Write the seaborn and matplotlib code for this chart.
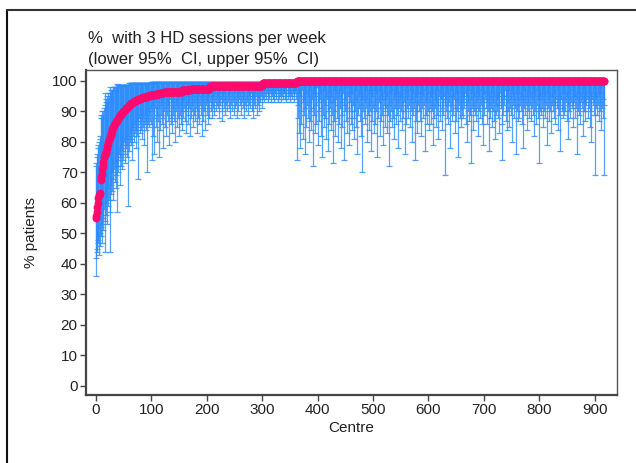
import numpy as np
import pandas as pd
import seaborn as sns
import matplotlib
matplotlib.use("Agg")
import matplotlib.pyplot as plt
from matplotlib.lines import Line2D

# ---------------- data ----------------
# % with 3 HD sessions per week, centres sorted ascending
pct_head = [55.0, 55.6, 57.1, 58.8, 60.0, 61.5, 62.5, 63.0, 63.3, 67.5,
            68.4, 69.6, 71.0, 72.2, 73.3, 75.0, 75.8, 76.2, 76.5, 77.1,
            77.8, 78.6, 79.3, 80.0, 80.6, 81.2, 81.8, 82.4, 83.0, 83.6,
            84.2, 84.6, 85.0, 85.4, 85.8, 86.1, 86.4, 86.7, 87.0, 87.3,
            87.6, 87.9, 88.2, 88.5, 88.8, 89.0, 89.2, 89.4, 89.6, 89.8,
            90.0, 90.2, 90.4, 90.6, 90.8, 91.0, 91.2, 91.4, 91.6, 91.8,
            92.0, 92.2, 92.4, 92.6, 92.7, 92.8, 92.9, 93.0, 93.1, 93.2,
            93.3, 93.4, 93.5, 93.6, 93.7, 93.8, 93.9, 94.0, 94.1, 94.1,
            94.2, 94.3, 94.3, 94.4, 94.5, 94.5, 94.6, 94.6, 94.7, 94.8,
            94.8, 94.9, 94.9, 95.0, 95.0, 95.1, 95.2, 95.2, 95.3, 95.3]
pct_step_values = [95.5, 95.7, 96.0, 96.3, 96.5, 97.0, 97.4, 98.2, 98.5, 99.3, 100.0]
pct_step_counts = [8, 8, 8, 10, 22, 15, 35, 50, 45, 62, 555]

# lower 95% CI
lower_a = [36, 42, 44, 45, 48, 47, 43, 50, 46, 52,
           49, 53, 47, 55, 51, 58, 54, 44, 60, 56,
           62, 53, 65, 59, 61, 57, 44, 66, 63, 70,
           64, 68, 61, 71, 67, 73, 65, 69, 57, 72,
           74, 70, 76, 66, 75, 78, 72, 71, 77, 79,
           74, 80, 76, 73, 81, 78, 79, 75, 59, 82,
           77, 80, 83, 79, 81, 84, 74, 82, 85, 80,
           83, 86, 78, 84, 87, 82, 68, 85, 88, 83,
           86, 84, 89, 81, 87, 85, 88, 79, 86, 89,
           87, 84, 70, 88, 86, 90, 85, 89, 87, 91]
lower_b = [86, 74, 90, 82, 92, 88, 76, 91, 85, 93, 80, 89, 94, 87, 75, 91, 84, 92, 89, 86,
           93, 88, 78, 90, 94, 85, 91, 82, 93, 89, 87, 92, 79, 90, 94, 86, 88, 93, 83, 91,
           89, 94, 87, 80, 92, 90, 85, 93, 88, 91, 82, 94, 89, 86, 92, 90, 84, 93, 88, 91,
           94, 87, 90, 83, 92, 95, 89, 86, 93, 91, 82, 94, 88, 90, 92, 85, 95, 89, 93, 87,
           91, 94, 83, 90, 93, 88, 95, 86, 92, 89, 94, 82, 91, 93, 87, 95, 90, 84, 92, 94,
           89, 93, 86, 91, 95, 88, 93, 90, 96, 92, 88, 94, 91, 95, 89, 93, 96, 90, 92, 94,
           95, 91, 93, 88, 96, 92, 94, 90, 87, 95, 93, 91, 96, 89, 94, 92, 97, 90, 93, 95,
           91, 94, 88, 96, 92, 95, 90, 93, 97, 89, 94, 91, 96, 92, 88, 95, 93, 90, 96, 94,
           92, 95, 89, 93, 96, 91, 94, 88, 95, 92, 97, 90, 94, 93, 96, 89, 92, 95, 91, 94,
           96, 90, 93, 95, 88, 94, 92, 96, 91, 95, 93, 89, 97, 92, 94, 90, 96, 93, 95, 91,
           95, 97, 94, 96, 93, 98, 95, 94, 97, 96, 93, 95, 98, 94, 96, 97, 93, 95, 96, 94,
           97, 95, 93, 96, 98, 94, 95, 97, 93, 96, 94, 98, 95, 97, 96, 93, 95, 97, 94, 96,
           96, 94, 97, 95, 93, 98, 96, 94, 95, 97, 93, 96, 98, 95, 94, 97, 96, 93, 95, 97,
           96, 94, 97]
lower_c = [74, 92, 88, 96, 83, 78, 95, 90, 86, 97, 93, 81, 89, 94, 76, 91, 96, 85, 92, 88,
           95, 80, 93, 87, 97, 90, 84, 94, 72, 91, 96, 89, 83, 95, 92, 86, 98, 79, 93, 90,
           87, 94, 96, 82, 91, 75, 93, 89, 97, 85, 92, 88, 95, 81, 94, 90, 77, 96, 86, 93,
           91, 84, 95, 89, 73, 93, 97, 87, 90, 82, 94, 96, 88, 92, 80, 95, 86, 91, 97, 78,
           93, 89, 85, 96, 92, 74, 90, 94, 87, 98, 83, 91, 95, 88, 79, 93, 96, 86, 90, 84,
           96, 92, 88, 81, 94, 90, 97, 85, 93, 76, 89, 95, 91, 87, 96, 82, 92, 94, 70, 90,
           88, 95, 93, 86, 91, 97, 80, 94, 89, 92, 84, 96, 90, 77, 93, 87, 95, 91, 83, 97,
           92, 86, 96, 90, 75, 94, 88, 93, 97, 82, 91, 95, 87, 89, 94, 79, 92, 96, 85, 90,
           94, 91, 83, 95, 89, 92, 72, 96, 87, 93, 90, 85, 97, 88, 94, 81, 91, 95, 86, 92,
           89, 96, 93, 78, 91, 94, 87, 90, 95, 84, 92, 97, 88, 93, 76, 90, 96, 86, 94, 91,
           95, 88, 92, 85, 97, 90, 93, 80, 94, 89, 96, 91, 74, 93, 87, 95, 90, 83, 92, 96,
           90, 93, 87, 96, 82, 94, 91, 88, 95, 92, 77, 97, 89, 93, 86, 94, 90, 96, 84, 91,
           93, 86, 95, 90, 92, 79, 96, 88, 94, 91, 85, 93, 97, 89, 92, 81, 95, 87, 90, 94,
           96, 91, 84, 93, 89, 95, 92, 69, 90, 94, 88, 96, 86, 92, 93, 78, 95, 90, 97, 87,
           92, 95, 89, 94, 83, 91, 96, 87, 93, 90, 75, 94, 92, 88, 96, 85, 91, 95, 89, 93,
           88, 94, 91, 96, 86, 92, 80, 95, 90, 93, 87, 97, 89, 73, 94, 91, 96, 84, 92, 90,
           95, 89, 93, 87, 96, 91, 94, 82, 90, 95, 88, 92, 97, 86, 93, 79, 91, 96, 89, 94,
           91, 96, 86, 93, 90, 95, 77, 92, 88, 94, 91, 85, 96, 90, 93, 87, 95, 81, 92, 89,
           94, 90, 95, 88, 92, 83, 96, 91, 93, 86, 74, 95, 89, 94, 92, 97, 87, 90, 95, 84,
           90, 93, 97, 85, 91, 94, 89, 96, 80, 92, 95, 88, 93, 91, 76, 96, 90, 94, 87, 92,
           96, 88, 92, 94, 90, 86, 95, 93, 78, 91, 97, 89, 94, 92, 84, 95, 90, 93, 88, 96,
           92, 95, 87, 91, 94, 89, 96, 82, 93, 90, 95, 86, 92, 97, 88, 94, 73, 91, 95, 90,
           89, 94, 91, 96, 85, 93, 90, 95, 88, 92, 79, 96, 91, 94, 87, 93, 95, 90, 83, 92,
           95, 90, 93, 88, 96, 92, 86, 94, 91, 97, 84, 93, 89, 95, 92, 77, 94, 90, 96, 88,
           91, 96, 89, 94, 90, 93, 87, 95, 81, 92, 96, 90, 94, 88, 93, 91, 97, 85, 92, 95,
           93, 88, 95, 91, 76, 94, 90, 96, 92, 89, 95, 86, 93, 91, 94, 82, 96, 90, 93, 87,
           90, 95, 92, 94, 88, 96, 91, 93, 85, 95, 90, 80, 94, 92, 96, 89, 93, 69, 95, 91,
           94, 89, 96, 92, 87, 95, 90, 93, 84, 96, 91, 88, 94, 69, 92]

# upper 95% CI
upper_head = [73, 72, 75, 76, 78, 79, 80, 81, 82, 88,
              89, 90, 88, 90, 89, 91, 92, 96, 93, 94,
              93, 95, 94, 96, 95, 96, 98, 96, 97, 97,
              97, 98, 97, 98, 98, 97, 98, 98, 99, 98]
upper_step_values = [98.8, 99.2, 99.5, 99.7, 100.0]
upper_step_counts = [20, 40, 100, 163, 555]

# ---------------- assemble ----------------
pct = np.array(pct_head + list(np.repeat(pct_step_values, pct_step_counts)), dtype=float)
lower = np.array(lower_a + lower_b + lower_c, dtype=float)
upper = np.array(upper_head + list(np.repeat(upper_step_values, upper_step_counts)), dtype=float)
centre = np.arange(len(pct))
df = pd.DataFrame({"Centre": centre, "pct": pct, "lower": lower, "upper": upper})

# ---------------- plot ----------------
sns.set_theme(style="white")
plt.rcParams["font.family"] = ["Liberation Sans", "DejaVu Sans"]

fig = plt.figure(figsize=(6.36, 4.63), dpi=100)
ax = fig.add_axes([86/636, 1-395/463, (617-86)/636, (395-70)/463])

ax.errorbar(df["Centre"], df["pct"],
            yerr=[df["pct"] - df["lower"], df["upper"] - df["pct"]],
            fmt="none", ecolor="#2b8cff", alpha=0.8,
            elinewidth=0.9, capsize=2.2, capthick=0.9, zorder=2)
sns.scatterplot(data=df, x="Centre", y="pct", ax=ax, color="#ff0a6e",
                s=32, linewidth=0, zorder=3, legend=False)

ax.set_xlim(-17.5, 940)
ax.set_ylim(-3, 103.6)
ax.set_xticks(range(0, 901, 100))
ax.set_yticks(range(0, 101, 10))
ax.tick_params(axis="both", which="both", direction="out", length=4, width=1,
               color="#444444", labelsize=11, labelcolor="#222222", pad=2)
ax.tick_params(left=True, bottom=True)

for side in ["left", "bottom"]:
    ax.spines[side].set_color("#444444")
    ax.spines[side].set_linewidth(1.6)
for side in ["top", "right"]:
    ax.spines[side].set_color("#555555")
    ax.spines[side].set_linewidth(1.0)

ax.set_xlabel("Centre", fontsize=11, color="#222222", labelpad=3)
ax.set_ylabel("% patients", fontsize=11, color="#222222", labelpad=10)
ax.set_title("%  with 3 HD sessions per week\n(lower 95%  CI, upper 95%  CI)",
             loc="left", fontsize=12, color="#222222", pad=4,
             linespacing=1.55, x=0.003)

# outer frame
fig.add_artist(Line2D([7/636, 7/636], [0, 1-10/463], transform=fig.transFigure,
                      color="#111111", linewidth=1.5))
fig.add_artist(Line2D([7/636, 1], [1-10/463, 1-10/463], transform=fig.transFigure,
                      color="#333333", linewidth=1.5))

fig.savefig("out.png", dpi=100)
